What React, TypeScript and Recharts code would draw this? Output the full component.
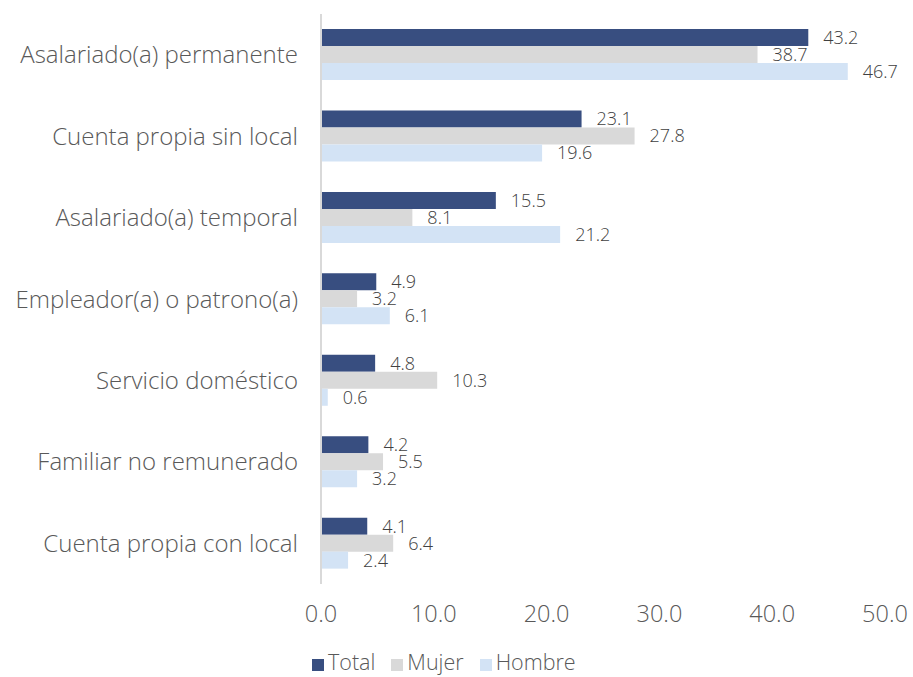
import { BarChart, Bar, XAxis, YAxis, LabelList } from "recharts";

const categories = [
  "Asalariado(a) permanente",
  "Cuenta propia sin local",
  "Asalariado(a) temporal",
  "Empleador(a) o patrono(a)",
  "Servicio doméstico",
  "Familiar no remunerado",
  "Cuenta propia con local",
];
const totalValues = [43.2, 23.1, 15.5, 4.9, 4.8, 4.2, 4.1];
const mujerValues = [38.7, 27.8, 8.1, 3.2, 10.3, 5.5, 6.4];
const hombreValues = [46.7, 19.6, 21.2, 6.1, 0.6, 3.2, 2.4];
const xTicks = [0, 10, 20, 30, 40, 50];

const series = [
  { key: "total", name: "Total", color: "#384E80" },
  { key: "mujer", name: "Mujer", color: "#D9D9D9" },
  { key: "hombre", name: "Hombre", color: "#D3E3F5" },
];

const data = categories.map((c, i) => ({
  cat: c,
  total: totalValues[i],
  mujer: mujerValues[i],
  hombre: hombreValues[i],
}));

const font = "'Open Sans', sans-serif";

// legend drawn as a plain div under the chart
const LegendBox = () => (
  <div style={{ position: "absolute", left: 312, top: 649, display: "flex", gap: "16px", fontFamily: font, fontWeight: 300, fontSize: 21.5, color: "#595959", lineHeight: "26px" }}>
    {series.map(s => (
      <div key={s.key} style={{ display: "flex", alignItems: "center", gap: 4 }}>
        <span style={{ width: 12, height: 12, background: s.color, display: "inline-block", marginTop: 5 }} />
        <span>{s.name}</span>
      </div>
    ))}
  </div>
);

export default function App() {
  return (
    <div style={{ position: "absolute", left: 0, top: 0, width: 913, height: 677, background: "#fff", overflow: "hidden" }}>
      <BarChart
        width={913}
        height={677}
        data={data}
        layout="vertical"
        margin={{ top: 14, right: 28, left: 0, bottom: 37 }}
        barCategoryGap="18.5%"
        barGap={0}
      >
        <XAxis
          type="number"
          domain={[0, 50]}
          ticks={xTicks}
          tickFormatter={(v: number) => v.toFixed(1)}
          axisLine={false}
          tickLine={false}
          tickSize={0}
          tickMargin={21}
          height={56}
          tick={{ fill: "#595959", fontSize: 23.5, fontFamily: font, fontWeight: 300 }}
        />
        <YAxis
          type="category"
          dataKey="cat"
          width={321}
          axisLine={{ stroke: "#D9D9D9", strokeWidth: 2 }}
          tickLine={false}
          tickSize={0}
          tickMargin={23}
          interval={0}
          tick={{ fill: "#595959", fontSize: 24, fontFamily: font, fontWeight: 300 }}
        />
        {series.map(s => (
          <Bar key={s.key} dataKey={s.key} name={s.name} fill={s.color} isAnimationActive={false}>
            <LabelList
              dataKey={s.key}
              position="right"
              offset={15}
              formatter={(v: any) => Number(v).toFixed(1)}
              style={{ fill: "#404040", fontSize: 18, fontFamily: font, fontWeight: 300 }}
            />
          </Bar>
        ))}
      </BarChart>
      <LegendBox />
    </div>
  );
}
